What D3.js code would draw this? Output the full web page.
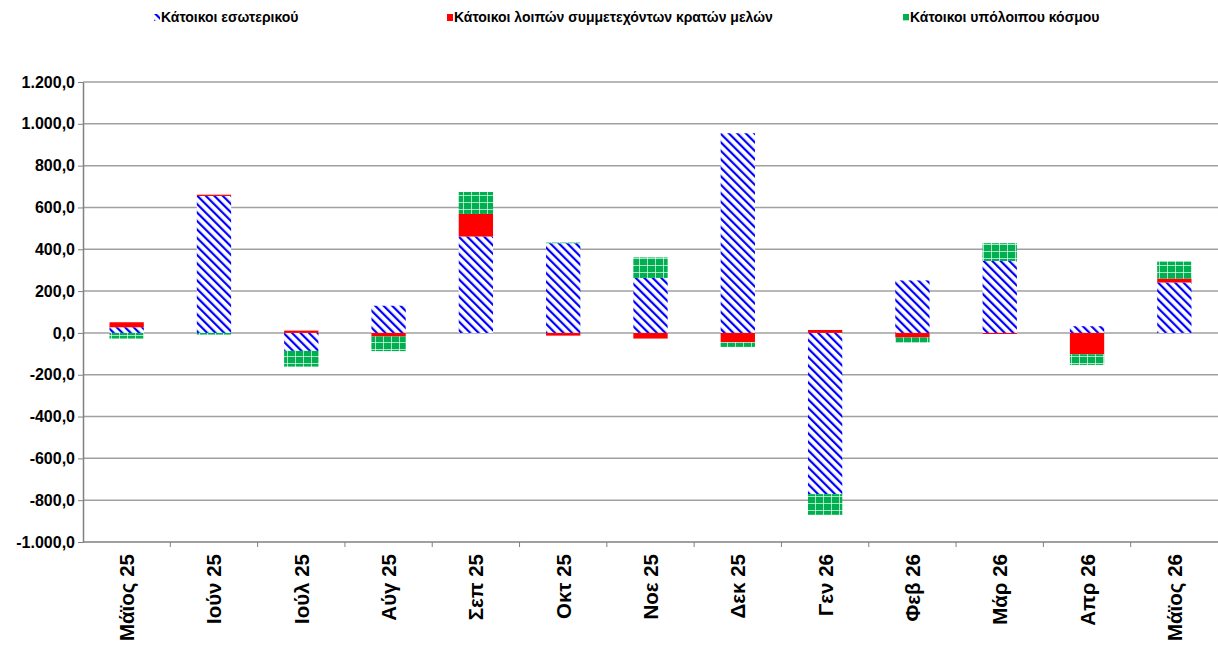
<!DOCTYPE html>
<html>
<head>
<meta charset="utf-8">
<script src="https://cdn.jsdelivr.net/npm/d3@7"></script>
<style>
  body { margin: 0; background: #fff; }
  svg text { font-family: "Liberation Sans", Arial, sans-serif; }
</style>
</head>
<body>
<div id="chart-area"></div>
<script>
// monthly flows, three series stacked (positives up, negatives down)
const months = ["Μάϊος 25", "Ιούν 25", "Ιούλ 25", "Αύγ 25", "Σεπ 25", "Οκτ 25", "Νοε 25",
  "Δεκ 25", "Γεν 26", "Φεβ 26", "Μάρ 26", "Απρ 26", "Μάϊος 26"]
const domestic = [27, 655, -86, 130, 461, 429, 263, 955, -771, 251, 344, 32, 241]
const otherMembers = [24, 6, 11, -17, 108, -13, -27, -45, 14, -22, -5, -102, 19]
const restOfWorld = [-27, -8, -75, -70, 105, 3, 98, -22, -99, -26, 85, -51, 81]
const seriesNames = ["Κάτοικοι εσωτερικού", "Κάτοικοι λοιπών συμμετεχόντων κρατών μελών", "Κάτοικοι υπόλοιπου κόσμου"]
const yTicks = [-1000, -800, -600, -400, -200, 0, 200, 400, 600, 800, 1000, 1200]

const W = 1218, H = 655
const MARGIN = { LEFT: 83, RIGHT: 0, TOP: 82, BOTTOM: 113 }

const svg = d3.select("#chart-area").append("svg")
  .attr("width", W)
  .attr("height", H)

// patterns
const defs = svg.append("defs")
const stripes = defs.append("pattern")
  .attr("id", "stripes")
  .attr("patternUnits", "userSpaceOnUse")
  .attr("width", 6).attr("height", 6)
  .attr("patternTransform", "rotate(-45)")
stripes.append("rect").attr("width", 6).attr("height", 6).attr("fill", "#fff")
stripes.append("rect").attr("width", 2.2).attr("height", 6).attr("fill", "#0000ff")

const grid = defs.append("pattern")
  .attr("id", "grid")
  .attr("patternUnits", "userSpaceOnUse")
  .attr("width", 8).attr("height", 7)
grid.append("rect").attr("width", 8).attr("height", 7).attr("fill", "#00b050")
grid.append("rect").attr("x", 7).attr("width", 1).attr("height", 7).attr("fill", "#fff").attr("opacity", 0.65)
grid.append("rect").attr("y", 6).attr("width", 8).attr("height", 1).attr("fill", "#fff").attr("opacity", 0.65)

const fills = ["url(#stripes)", "#ff0000", "url(#grid)"]

const x = d3.scaleBand()
  .domain(months)
  .range([MARGIN.LEFT, W - MARGIN.RIGHT])
  .paddingInner(0.607)
  .paddingOuter(0.3035)

const y = d3.scaleLinear()
  .domain([-1000, 1200])
  .range([H - MARGIN.BOTTOM, MARGIN.TOP])

const locale = d3.formatLocale({ decimal: ",", thousands: ".", grouping: [3], currency: ["", "€"], minus: "-" })
const fmt = locale.format(",.1f")

// gridlines
svg.append("g")
  .selectAll("line")
  .data(yTicks.filter(d => d !== -1000))
  .join("line")
  .attr("x1", MARGIN.LEFT).attr("x2", W)
  .attr("y1", d => y(d)).attr("y2", d => y(d))
  .attr("stroke", "#a0a0a0")
  .attr("stroke-width", 1.5)

// y axis
const yAxis = svg.append("g")
  .attr("transform", `translate(${MARGIN.LEFT}, 0)`)
  .call(d3.axisLeft(y).tickValues(yTicks).tickFormat(fmt).tickSize(5).tickSizeOuter(0))
yAxis.select(".domain").attr("stroke", "#808080").attr("stroke-width", 1.5)
yAxis.selectAll(".tick line").attr("stroke", "#808080")
yAxis.selectAll("text")
  .attr("font-size", "16px")
  .attr("font-weight", "bold")
  .attr("fill", "#000")
  .attr("x", -8)

// stacked bars
const table = months.map((m, i) => ({ month: m, a: domestic[i], b: otherMembers[i], c: restOfWorld[i] }))
const stacked = d3.stack()
  .keys(["a", "b", "c"])
  .offset(d3.stackOffsetDiverging)(table)

svg.append("g")
  .selectAll("g")
  .data(stacked)
  .join("g")
  .attr("fill", (d, i) => fills[i])
  .selectAll("rect")
  .data(d => d)
  .join("rect")
  .attr("x", d => x(d.data.month))
  .attr("width", x.bandwidth())
  .attr("y", d => y(Math.max(d[0], d[1])))
  .attr("height", d => Math.abs(y(d[0]) - y(d[1])))

// x axis at the bottom (-1000)
const xAxis = svg.append("g")
  .attr("transform", `translate(0, ${y(-1000)})`)
const step = x.step()
const gap = (step - x.bandwidth()) / 2
xAxis.append("line")
  .attr("x1", MARGIN.LEFT).attr("x2", W)
  .attr("stroke", "#808080").attr("stroke-width", 1.5)
xAxis.selectAll(".tk")
  .data(months.slice(0, -1))
  .join("line")
  .attr("class", "tk")
  .attr("x1", d => x(d) + x.bandwidth() + gap)
  .attr("x2", d => x(d) + x.bandwidth() + gap)
  .attr("y1", 0).attr("y2", 5)
  .attr("stroke", "#808080")
xAxis.selectAll(".lbl")
  .data(months)
  .join("text")
  .attr("class", "lbl")
  .attr("transform", d => `translate(${x(d) + x.bandwidth() / 2 + 7.5}, 12) rotate(-90)`)
  .attr("text-anchor", "end")
  .attr("font-size", "20.5px")
  .attr("font-weight", "bold")
  .text(d => d)

// legend
const legendX = [154, 447, 903]
const legend = svg.append("g")
  .selectAll("g")
  .data(seriesNames)
  .join("g")
  .attr("transform", (d, i) => `translate(${legendX[i]}, 14)`)
legend.append("rect")
  .attr("width", 6).attr("height", 7)
  .attr("fill", (d, i) => fills[i])
legend.append("text")
  .attr("x", 7).attr("y", 7.5)
  .attr("font-size", "14px")
  .attr("font-family", "'Liberation Sans Narrow', 'Liberation Sans', sans-serif")
  .attr("font-weight", "bold")
  .text(d => d)
</script>
</body>
</html>
